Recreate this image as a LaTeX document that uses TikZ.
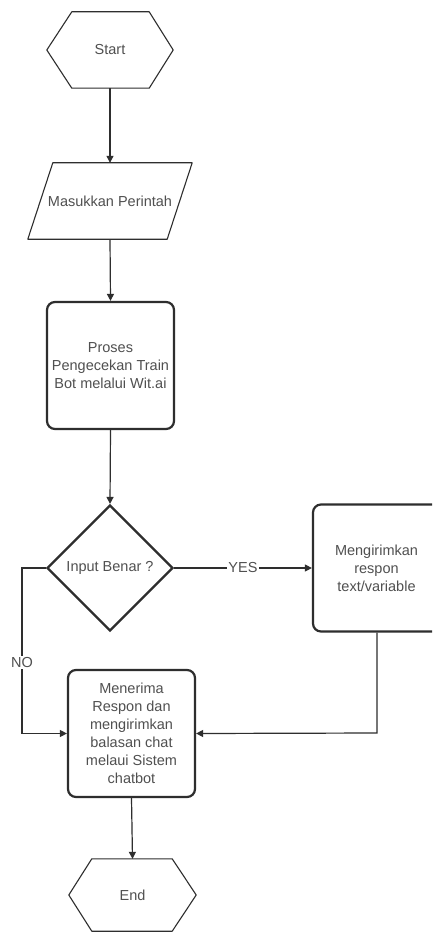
\documentclass[tikz,border=0pt]{standalone}
\usepackage{fontspec}
\setmainfont{Liberation Sans}
\usetikzlibrary{arrows.meta,shapes.geometric}
\definecolor{linec}{HTML}{2E2E2E}
\definecolor{textc}{HTML}{505050}
\tikzset{
  lbl/.style={text=textc,font=\fontsize{14.5}{18}\selectfont,align=center,inner sep=0pt},
  outline/.style={draw=linec,line width=1.1pt,line join=round},
  boxstyle/.style={lbl,draw=linec,line width=2.2pt,rounded corners=8pt,minimum width=127pt,minimum height=127pt},
  decstyle/.style={lbl,diamond,aspect=1,draw=linec,line width=2.2pt,minimum width=126pt,minimum height=126pt},
  conn/.style={draw=linec,line width=1.2pt,-{Triangle[length=7pt,width=7pt]}},
  tag/.style={lbl,fill=white,inner sep=1.5pt}
}
\begin{document}
\begin{tikzpicture}[x=1pt,y=-1pt]
\clip (0,0) rectangle (432,933);
\fill[white] (0,0) rectangle (432,933);

% Start hexagon
\node[lbl,minimum width=126pt,minimum height=76pt] (start) at (110,50) {Start};
\draw[outline] (start.west) -- ([xshift=25pt]start.north west) -- ([xshift=-24pt]start.north east)
  -- (start.east) -- ([xshift=-24pt]start.south east) -- ([xshift=25pt]start.south west) -- cycle;

% Input parallelogram
\node[lbl,minimum width=164pt,minimum height=76pt] (input) at (110,201) {Masukkan Perintah};
\draw[outline] ([xshift=25pt]input.north west) -- (input.north east)
  -- ([xshift=-25pt]input.south east) -- (input.south west) -- cycle;

% Process box
\node[boxstyle] (proc) at (110.5,365.5) {Proses\\Pengecekan Train\\Bot melalui Wit.ai};

% Decision
\node[decstyle] (dec) at (110,568) {Input Benar ?};

% Send response box
\node[boxstyle] (send) at (376.5,568) {Mengirimkan\\respon\\text/variable};

% Receive box
\node[boxstyle] (recv) at (131.5,733.5) {Menerima\\Respon dan\\mengirimkan\\balasan chat\\melaui Sistem\\chatbot};

% End hexagon
\node[lbl,minimum width=127pt,minimum height=72pt] (end) at (132.5,895) {End};
\draw[outline] (end.west) -- ([xshift=23pt]end.north west) -- ([xshift=-24pt]end.north east)
  -- (end.east) -- ([xshift=-24pt]end.south east) -- ([xshift=23pt]end.south west) -- cycle;

% Connectors
\coordinate (nocorner) at (22,568);
\coordinate (yescorner) at (377,733);
\draw[conn] (start.south) -- (input.north);
\draw[conn] (input.south) -- (proc.north);
\draw[conn] (proc.south) -- (dec.north);
\draw[conn] (dec.east) -- node[tag] {YES} (send.west);
\draw[conn] (dec.west) -- (nocorner) -- node[tag,pos=0.57] {NO} (nocorner |- recv.west) -- (recv.west);
\draw[conn] (send.south -| yescorner) -- (yescorner) -- (recv.east);
\draw[conn] (recv.south) -- (end.north);
\end{tikzpicture}
\end{document}
